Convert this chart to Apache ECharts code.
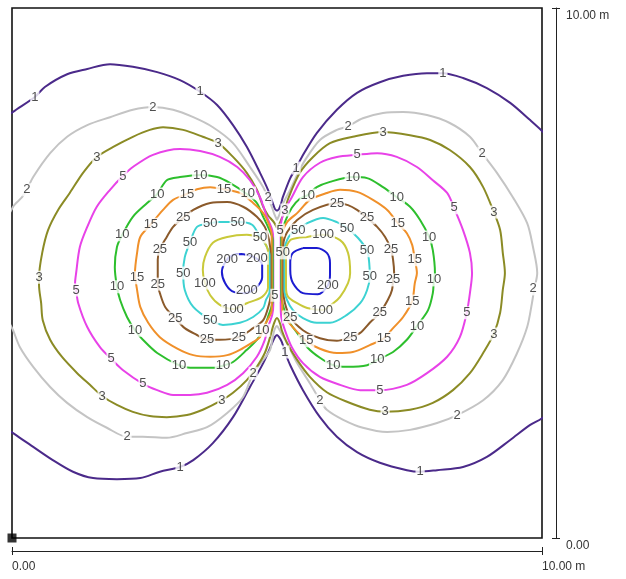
<!DOCTYPE html>
<html>
<head>
<meta charset="utf-8">
<script src="https://cdn.jsdelivr.net/npm/echarts@6.0.0/dist/echarts.min.js"></script>
<style>
html,body{margin:0;padding:0;background:#fff;}
#chart{width:626px;height:579px;}
</style>
</head>
<body>
<div id="chart"></div>
<script>
// contour levels and their colours
var levels = [1, 2, 3, 5, 10, 15, 25, 50, 100, 200];
var levelColors = ['#4b2a8a', '#c4c4c4', '#8b8b25', '#e842e8', '#2dbf2d', '#f0902a', '#8b5a2b', '#3cd2d2', '#c9c93a', '#1c1cd0'];
var axisTickLabels = ['0.00', '10.00 m'];

// contour lines, [x m, y m]
var c1 = [[5.00,6.17],[5.04,6.21],[5.08,6.32],[5.11,6.43],[5.25,6.79],[5.36,6.98],[5.47,7.19],[5.75,7.64],[6.13,8.08],[6.51,8.40],[6.94,8.60],[7.38,8.72],[7.83,8.77],[8.13,8.77],[8.51,8.68],[8.96,8.49],[9.40,8.21],[9.77,7.89],[10.00,7.68],[10.34,7.32],[10.34,2.60],[10.00,2.26],[9.77,2.13],[9.40,1.85],[8.96,1.53],[8.51,1.34],[8.02,1.28],[7.70,1.25],[7.45,1.28],[6.94,1.42],[6.51,1.62],[6.13,1.91],[5.81,2.28],[5.49,2.79],[5.25,3.26],[5.15,3.51],[5.09,3.70],[5.04,3.79],[5.00,3.83],[4.96,3.79],[4.91,3.68],[4.74,3.30],[4.49,2.85],[4.17,2.28],[3.79,1.79],[3.42,1.47],[3.17,1.34],[2.79,1.25],[2.42,1.13],[1.98,1.11],[1.53,1.13],[1.15,1.25],[0.77,1.47],[0.40,1.72],[0.02,1.98],[-0.32,2.23],[-0.32,7.79],[0.02,8.04],[0.43,8.32],[0.62,8.51],[1.04,8.75],[1.42,8.85],[1.85,8.94],[2.28,8.89],[2.74,8.79],[3.17,8.64],[3.55,8.42],[3.87,8.17],[4.17,7.79],[4.43,7.38],[4.68,6.89],[4.83,6.57],[4.92,6.32],[4.96,6.21],[5.00,6.17]];
var c2 = [[5.00,6.00],[5.05,6.11],[5.11,6.30],[5.25,6.57],[5.38,6.85],[5.53,7.13],[5.81,7.51],[6.13,7.70],[6.34,7.77],[6.62,7.92],[7.00,8.02],[7.38,8.04],[7.83,7.98],[8.26,7.83],[8.64,7.57],[8.87,7.26],[9.15,6.89],[9.45,6.43],[9.72,5.94],[9.83,5.49],[9.91,5.00],[9.85,4.68],[9.81,4.43],[9.72,3.98],[9.53,3.49],[9.26,2.98],[8.89,2.60],[8.40,2.32],[8.02,2.17],[7.51,2.04],[7.08,2.00],[6.62,2.08],[6.25,2.23],[5.94,2.42],[5.81,2.60],[5.62,2.92],[5.38,3.30],[5.19,3.68],[5.08,3.87],[5.05,3.92],[5.00,4.00],[4.95,3.92],[4.91,3.74],[4.87,3.55],[4.74,3.36],[4.55,3.11],[4.36,2.66],[4.06,2.36],[3.68,2.09],[3.30,1.98],[2.92,1.89],[2.47,1.91],[2.17,1.91],[1.79,2.08],[1.42,2.28],[1.04,2.55],[0.72,2.85],[0.40,3.23],[0.15,3.60],[0.02,3.92],[-0.23,4.49],[-0.23,5.62],[0.02,6.25],[0.19,6.43],[0.28,6.57],[0.40,6.81],[0.72,7.26],[1.04,7.57],[1.42,7.79],[1.85,7.94],[2.28,8.08],[2.66,8.13],[3.04,8.08],[3.42,7.94],[3.79,7.75],[4.17,7.45],[4.49,7.00],[4.74,6.62],[4.83,6.42],[4.91,6.23],[4.95,6.11],[5.00,6.00]];
var c3 = [[5.00,5.85],[5.06,5.96],[5.15,6.19],[5.21,6.40],[5.43,6.89],[5.68,7.19],[6.00,7.45],[6.43,7.57],[7.00,7.66],[7.51,7.60],[7.89,7.51],[8.26,7.32],[8.64,7.00],[8.89,6.62],[9.09,6.15],[9.21,5.81],[9.26,5.38],[9.30,5.00],[9.26,4.68],[9.21,4.25],[9.09,3.85],[8.89,3.49],[8.64,3.11],[8.32,2.79],[7.94,2.55],[7.51,2.42],[7.04,2.38],[6.75,2.42],[6.32,2.57],[5.94,2.75],[5.62,3.04],[5.38,3.36],[5.19,3.68],[5.09,3.92],[5.06,4.04],[5.00,4.15],[4.94,4.04],[4.87,3.79],[4.77,3.49],[4.62,3.23],[4.43,2.98],[4.17,2.74],[3.96,2.60],[3.60,2.42],[3.30,2.32],[2.92,2.28],[2.60,2.30],[2.28,2.38],[1.98,2.51],[1.70,2.68],[1.47,2.89],[1.23,3.11],[0.94,3.42],[0.72,3.74],[0.58,4.11],[0.55,4.43],[0.51,4.77],[0.51,4.92],[0.57,5.38],[0.68,5.81],[0.87,6.19],[1.09,6.51],[1.34,6.89],[1.60,7.19],[1.91,7.38],[2.28,7.57],[2.60,7.70],[2.85,7.75],[3.23,7.70],[3.60,7.57],[3.89,7.45],[4.17,7.19],[4.43,6.89],[4.62,6.57],[4.74,6.25],[4.83,6.09],[4.94,5.96],[5.00,5.85]];
// higher levels: right lobe and left lobe, each running straight through the central bundle
var c5R = [[5.07,5.05],[5.07,5.85],[5.13,6.15],[5.28,6.43],[5.49,6.81],[5.81,7.08],[6.13,7.19],[6.51,7.23],[6.89,7.26],[7.26,7.19],[7.64,7.00],[7.94,6.75],[8.21,6.51],[8.34,6.23],[8.51,5.81],[8.64,5.38],[8.68,5.00],[8.64,4.62],[8.58,4.25],[8.45,3.79],[8.21,3.42],[7.83,3.11],[7.45,2.89],[6.94,2.79],[6.57,2.79],[6.19,2.89],[5.81,3.04],[5.49,3.30],[5.28,3.60],[5.15,3.92],[5.08,4.17],[5.07,4.40],[5.07,4.95],[5.07,5.05]];
var c5L = [[4.93,4.95],[4.93,4.40],[4.91,4.21],[4.83,3.98],[4.77,3.74],[4.62,3.42],[4.36,3.11],[4.06,2.89],[3.68,2.74],[3.36,2.70],[3.04,2.70],[2.74,2.79],[2.47,2.91],[2.09,3.17],[1.87,3.38],[1.66,3.60],[1.42,3.98],[1.25,4.43],[1.21,4.68],[1.19,4.81],[1.21,5.00],[1.28,5.49],[1.42,5.87],[1.60,6.25],[1.85,6.57],[2.09,6.83],[2.28,7.00],[2.66,7.23],[3.17,7.34],[3.55,7.30],[3.92,7.19],[4.25,7.00],[4.49,6.75],[4.68,6.43],[4.81,6.06],[4.91,5.81],[4.93,5.62],[4.93,5.05],[4.93,4.95]];
var c10R = [[5.08,5.05],[5.08,5.66],[5.15,5.96],[5.28,6.23],[5.43,6.40],[5.58,6.47],[5.75,6.62],[6.00,6.72],[6.43,6.81],[6.70,6.79],[7.00,6.62],[7.26,6.43],[7.51,6.25],[7.70,6.00],[7.87,5.68],[7.94,5.43],[7.98,5.00],[7.96,4.87],[7.94,4.62],[7.85,4.30],[7.64,4.00],[7.45,3.74],[7.19,3.51],[6.89,3.36],[6.70,3.26],[6.32,3.23],[6.06,3.26],[5.81,3.40],[5.57,3.60],[5.38,3.87],[5.21,4.11],[5.11,4.40],[5.08,4.58],[5.08,4.95],[5.08,5.05]];
var c10L = [[4.92,4.95],[4.92,4.49],[4.83,4.17],[4.74,3.92],[4.62,3.74],[4.43,3.55],[4.17,3.32],[3.98,3.25],[3.79,3.21],[3.36,3.21],[3.15,3.26],[2.74,3.49],[2.47,3.74],[2.32,3.92],[2.17,4.17],[2.04,4.49],[1.98,4.74],[1.94,5.11],[1.98,5.49],[2.08,5.72],[2.28,6.06],[2.55,6.32],[2.74,6.49],[2.92,6.75],[3.17,6.81],[3.55,6.85],[3.87,6.81],[4.11,6.70],[4.43,6.49],[4.62,6.32],[4.74,6.06],[4.83,5.87],[4.92,5.62],[4.92,5.05],[4.92,4.95]];
var c15R = [[5.10,5.05],[5.10,5.72],[5.19,5.96],[5.38,6.13],[5.62,6.38],[5.94,6.51],[6.19,6.57],[6.51,6.53],[6.81,6.38],[7.08,6.19],[7.28,5.94],[7.45,5.75],[7.55,5.53],[7.60,5.25],[7.64,5.00],[7.60,4.81],[7.55,4.47],[7.38,4.17],[7.19,3.96],[7.02,3.77],[6.75,3.64],[6.43,3.51],[6.13,3.49],[5.81,3.57],[5.55,3.72],[5.40,3.87],[5.21,4.08],[5.10,4.30],[5.10,4.95],[5.10,5.05]];
var c15L = [[4.90,4.95],[4.90,4.30],[4.77,4.02],[4.68,3.79],[4.55,3.70],[4.30,3.55],[4.06,3.45],[3.74,3.42],[3.42,3.45],[3.11,3.58],[2.79,3.79],[2.57,4.06],[2.42,4.36],[2.36,4.68],[2.32,5.00],[2.36,5.38],[2.42,5.68],[2.62,5.92],[2.85,6.19],[3.04,6.38],[3.30,6.49],[3.49,6.58],[3.74,6.62],[4.00,6.58],[4.30,6.51],[4.55,6.32],[4.74,6.13],[4.83,5.96],[4.90,5.72],[4.90,5.05],[4.90,4.95]];
var c25R = [[5.12,5.05],[5.12,5.53],[5.19,5.77],[5.38,6.00],[5.68,6.19],[6.13,6.32],[6.34,6.28],[6.51,6.19],[6.70,6.04],[6.89,5.87],[7.04,5.68],[7.15,5.45],[7.19,5.25],[7.21,5.00],[7.19,4.87],[7.17,4.68],[7.09,4.49],[6.94,4.25],[6.75,4.06],[6.57,3.87],[6.38,3.79],[6.13,3.72],[5.81,3.77],[5.49,3.92],[5.25,4.17],[5.15,4.43],[5.12,4.68],[5.12,4.95],[5.12,5.05]];
var c25L = [[4.88,4.95],[4.88,4.58],[4.83,4.34],[4.74,4.11],[4.55,3.96],[4.28,3.79],[3.92,3.74],[3.68,3.74],[3.49,3.83],[3.26,3.96],[3.08,4.15],[2.89,4.36],[2.79,4.62],[2.75,4.79],[2.75,5.25],[2.79,5.45],[2.92,5.68],[3.04,5.87],[3.23,6.04],[3.42,6.19],[3.74,6.32],[4.06,6.34],[4.36,6.25],[4.62,6.06],[4.77,5.87],[4.85,5.62],[4.88,5.34],[4.88,5.05],[4.88,4.95]];
var c50R = [[5.14,5.05],[5.14,5.43],[5.19,5.62],[5.28,5.75],[5.40,5.81],[5.57,5.94],[5.87,6.04],[6.13,5.96],[6.32,5.85],[6.53,5.66],[6.70,5.42],[6.74,5.19],[6.75,4.94],[6.70,4.68],[6.57,4.43],[6.32,4.21],[6.00,4.06],[5.75,4.06],[5.49,4.15],[5.30,4.30],[5.19,4.49],[5.14,4.68],[5.14,4.95],[5.14,5.05]];
var c50L = [[4.86,4.95],[4.86,4.64],[4.79,4.49],[4.74,4.34],[4.55,4.17],[4.30,4.06],[3.98,4.02],[3.75,4.11],[3.42,4.36],[3.26,4.68],[3.23,5.00],[3.26,5.30],[3.36,5.58],[3.49,5.87],[3.74,5.94],[3.92,5.96],[4.26,5.96],[4.53,5.91],[4.68,5.68],[4.79,5.53],[4.86,5.34],[4.86,5.05],[4.86,4.95]];
var c100R = [[5.17,5.05],[5.17,5.43],[5.25,5.62],[5.38,5.66],[5.57,5.68],[5.87,5.72],[6.19,5.62],[6.34,5.38],[6.38,5.00],[6.34,4.81],[6.19,4.55],[6.06,4.43],[5.85,4.30],[5.57,4.34],[5.38,4.43],[5.21,4.55],[5.17,4.72],[5.17,4.95],[5.17,5.05]];
var c100L = [[4.83,4.95],[4.83,4.72],[4.72,4.55],[4.43,4.43],[4.17,4.32],[3.92,4.40],[3.74,4.58],[3.64,4.81],[3.60,5.06],[3.64,5.30],[3.79,5.57],[4.06,5.68],[4.43,5.72],[4.68,5.66],[4.77,5.57],[4.83,5.40],[4.83,5.05],[4.83,4.95]];
var c200L = [[4.34,5.36],[4.57,5.30],[4.72,5.15],[4.72,4.92],[4.60,4.72],[4.40,4.62],[4.15,4.66],[4.02,4.81],[3.96,5.02],[4.04,5.23],[4.17,5.34],[4.34,5.36]];
var c200R = [[5.49,5.47],[5.75,5.47],[5.94,5.38],[6.00,5.19],[6.00,4.96],[5.96,4.77],[5.77,4.60],[5.49,4.62],[5.30,4.81],[5.25,5.06],[5.25,5.21],[5.30,5.38],[5.49,5.47]];

// label positions on the contours, [x m, y m]
var lab1 = [[0.43,8.32],[3.55,8.42],[5.36,6.98],[8.13,8.77],[5.15,3.51],[7.70,1.25],[3.17,1.34]];
var lab2 = [[0.28,6.57],[2.66,8.13],[4.83,6.42],[6.34,7.77],[8.87,7.26],[9.83,4.70],[8.40,2.32],[5.81,2.60],[4.55,3.11],[2.17,1.91]];
var lab3 = [[0.51,4.92],[1.60,7.19],[3.89,7.45],[5.15,6.19],[7.00,7.66],[9.09,6.15],[9.09,3.85],[7.04,2.38],[3.96,2.60],[1.70,2.68]];
var lab5 = [[2.09,6.83],[1.21,4.68],[1.87,3.38],[2.47,2.91],[5.06,5.81],[4.96,4.58],[6.51,7.23],[8.34,6.23],[8.58,4.25],[6.94,2.79]];
var lab10 = [[3.55,6.85],[2.74,6.49],[4.45,6.51],[2.08,5.72],[1.98,4.74],[2.32,3.92],[3.15,3.26],[3.98,3.25],[4.72,3.92],[5.58,6.47],[6.43,6.81],[7.26,6.43],[7.87,5.68],[7.96,4.87],[7.64,4.00],[6.89,3.36],[6.06,3.26]];
var lab15 = [[3.30,6.49],[4.00,6.58],[2.62,5.92],[2.36,4.91],[7.28,5.94],[7.60,5.25],[7.55,4.47],[7.02,3.77],[5.55,3.72]];
var lab25 = [[3.23,6.04],[2.79,5.45],[2.75,4.79],[3.08,4.15],[3.68,3.74],[4.28,3.79],[6.13,6.32],[6.70,6.04],[7.15,5.45],[7.19,4.87],[6.94,4.25],[6.38,3.79],[5.25,4.17]];
var lab50 = [[3.74,5.94],[4.26,5.96],[3.36,5.58],[3.23,5.00],[3.74,4.11],[4.68,5.68],[5.11,5.38],[5.40,5.81],[6.32,5.85],[6.70,5.42],[6.75,4.94]];
var lab100 = [[3.64,4.81],[4.17,4.32],[5.87,5.72],[5.85,4.30]];
var lab200 = [[4.06,5.25],[4.62,5.28],[4.43,4.68],[5.96,4.77]];

var contourSets = [[c1], [c2], [c3], [c5R, c5L], [c10R, c10L], [c15R, c15L], [c25R, c25L], [c50R, c50L], [c100R, c100L], [c200L, c200R]];
var labelSets = [lab1, lab2, lab3, lab5, lab10, lab15, lab25, lab50, lab100, lab200];

var series = [];
contourSets.forEach(function (pieces, i) {
  pieces.forEach(function (pts) {
    series.push({
      type: 'line', xAxisIndex: 0, yAxisIndex: 0,
      data: pts, symbol: 'none', showSymbol: false, smooth: 0.3,
      clip: true, silent: true, z: 2,
      lineStyle: { color: levelColors[i], width: 2 }
    });
  });
});
var labelData = [];
labelSets.forEach(function (arr, i) {
  arr.forEach(function (p) { labelData.push([p[0], p[1], levels[i]]); });
});
var labelFont = 'Arial, "Liberation Sans", sans-serif';
series.push({
  type: 'scatter', xAxisIndex: 0, yAxisIndex: 0, data: labelData,
  symbol: 'circle', symbolSize: 1, itemStyle: { color: 'rgba(0,0,0,0)' }, silent: true, z: 5,
  label: {
    show: true, position: 'inside', formatter: function (p) { return String(p.value[2]); },
    color: '#222', fontSize: 13, fontFamily: labelFont,
    backgroundColor: '#fff', padding: [0, 1, 0, 1]
  }
});
// origin marker
series.push({
  type: 'scatter', xAxisIndex: 0, yAxisIndex: 0, data: [[0, 0]],
  symbol: 'rect', symbolSize: 9, itemStyle: { color: '#000' }, clip: false, silent: true, z: 6
});

var chart = echarts.init(document.getElementById('chart'));
chart.setOption({
  animation: false,
  backgroundColor: '#fff',
  grid: { left: 12, top: 8, width: 530, height: 530, show: true, borderColor: '#111', borderWidth: 1.6, backgroundColor: 'transparent' },
  xAxis: [
    { type: 'value', min: 0, max: 10, show: false },
    { type: 'value', min: 0, max: 10, interval: 10, position: 'bottom', offset: 13,
      axisLine: { show: true, onZero: false, lineStyle: { color: '#222', width: 1 } },
      axisTick: { show: true, length: 4, lineStyle: { color: '#222' } },
      splitLine: { show: false },
      axisLabel: { show: true, align: 'left', margin: 10, color: '#333', fontSize: 12, fontFamily: labelFont,
        formatter: function (v) { return v === 0 ? axisTickLabels[0] : axisTickLabels[1]; } } },
    { type: 'value', min: 0, max: 10, interval: 10, position: 'bottom', offset: 13,
      axisLine: { show: false, onZero: false }, axisTick: { show: true, inside: true, length: 4, lineStyle: { color: '#222' } },
      splitLine: { show: false }, axisLabel: { show: false } }
  ],
  yAxis: [
    { type: 'value', min: 0, max: 10, show: false },
    { type: 'value', min: 0, max: 10, interval: 10, position: 'right', offset: 14,
      axisLine: { show: true, onZero: false, lineStyle: { color: '#222', width: 1 } },
      axisTick: { show: true, length: 4, lineStyle: { color: '#222' } },
      splitLine: { show: false },
      axisLabel: { show: true, align: 'left', verticalAlign: 'top', margin: 10, padding: [2, 0, 0, 0], color: '#333', fontSize: 12, fontFamily: labelFont,
        formatter: function (v) { return v === 0 ? axisTickLabels[0] : axisTickLabels[1]; } } },
    { type: 'value', min: 0, max: 10, interval: 10, position: 'right', offset: 14,
      axisLine: { show: false, onZero: false }, axisTick: { show: true, inside: true, length: 4, lineStyle: { color: '#222' } },
      splitLine: { show: false }, axisLabel: { show: false } }
  ],
  series: series
});
</script>
</body>
</html>
